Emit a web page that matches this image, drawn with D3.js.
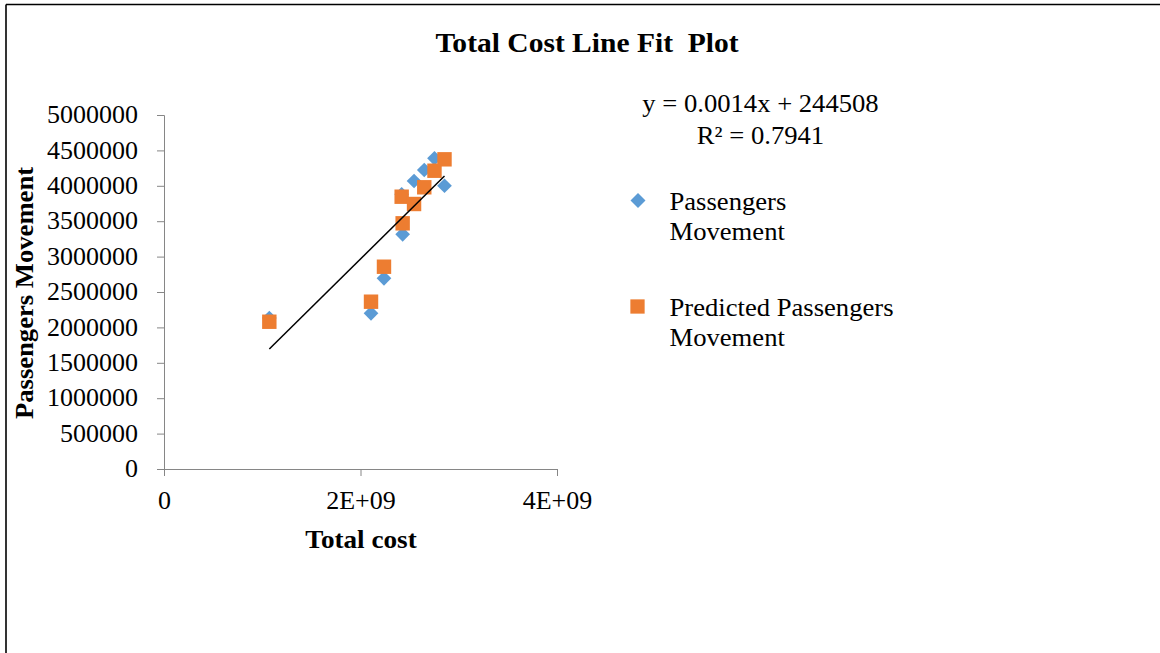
<!DOCTYPE html>
<html>
<head>
<meta charset="utf-8">
<script src="https://cdn.jsdelivr.net/npm/d3@7"></script>
<style>
  html, body { margin: 0; padding: 0; background: #fff; }
  svg { display: block; font-family: "Liberation Serif", "Times New Roman", serif; }
</style>
</head>
<body>
<svg id="chart" width="1160" height="653"></svg>
<script>
// ---- data ----
const totalCost = [1.072e9, 2.107e9, 2.239e9, 2.429e9, 2.419e9, 2.545e9, 2.649e9, 2.753e9, 2.855e9];
const passengersMovement = [2133000, 2199000, 2693000, 3315000, 3880000, 4068000, 4223000, 4388000, 4001000];
const predictedMovement = [2080000, 2363000, 2857000, 3470000, 3846000, 3743000, 3979000, 4213000, 4374000];
const xTicks = [0, 2e9, 4e9];
const xTickLabels = ["0", "2E+09", "4E+09"];
const yTicks = [0, 500000, 1000000, 1500000, 2000000, 2500000, 3000000, 3500000, 4000000, 4500000, 5000000];
const legendLines = [["Passengers", "Movement"], ["Predicted Passengers", "Movement"]];
const equationText = "y = 0.0014x + 244508";
const r2Text = "R² = 0.7941";
const titleText = "Total Cost Line Fit  Plot";
const xTitle = "Total cost";
const yTitle = "Passengers Movement";

const svg = d3.select("#chart");
const blue = "#5B9BD5", orange = "#ED7D31", axisCol = "#868686";
const SX = 1.07; // horizontal glyph stretch of the reference's text

// frame (only top and left edges visible in the window)
svg.append("line").attr("x1", 6).attr("x2", 1160).attr("y1", 4.5).attr("y2", 4.5).attr("stroke", "#000").attr("stroke-width", 1.6);
svg.append("line").attr("x1", 6).attr("x2", 6).attr("y1", 4.5).attr("y2", 653).attr("stroke", "#000").attr("stroke-width", 1.6);

const x = d3.scaleLinear().domain([0, 4e9]).range([164, 557]);
const y = d3.scaleLinear().domain([0, 5000000]).range([469, 115]);

function label(tx, ty, txt, size, opts = {}) {
  const rot = opts.rotate ? ` rotate(${opts.rotate})` : "";
  return svg.append("text")
    .attr("transform", `translate(${tx},${ty})${rot} scale(${SX},1)`)
    .attr("text-anchor", opts.anchor || "middle")
    .attr("font-size", size)
    .attr("font-weight", opts.bold ? "bold" : "normal")
    .attr("fill", "#000")
    .style("white-space", "pre")
    .text(txt);
}

// title
label(587, 52, titleText, 27.6, { bold: true });

// y axis
const yAxis = d3.axisLeft(y).tickValues(yTicks).tickSize(7).tickPadding(17.3).tickFormat(d3.format("d"));
const gy = svg.append("g").attr("transform", "translate(164,0)").call(yAxis);
gy.select(".domain").attr("stroke", axisCol).attr("d", "M-7,115.5H0.5V469.5");
gy.selectAll(".tick line").attr("stroke", axisCol);
gy.selectAll(".tick text").attr("font-size", 24.3).attr("fill", "#000")
  .attr("font-family", "Liberation Serif").attr("transform", `scale(${SX},1)`);

// x axis
const xAxis = d3.axisBottom(x).tickValues(xTicks).tickSize(7).tickPadding(16).tickFormat((d, i) => xTickLabels[i]);
const gx = svg.append("g").attr("transform", "translate(0,469)").call(xAxis);
gx.select(".domain").attr("stroke", axisCol).attr("d", "M164,0.5H557.5V7");
gx.selectAll(".tick line").attr("stroke", axisCol);
gx.selectAll(".tick text").attr("font-size", 24.3).attr("fill", "#000")
  .attr("font-family", "Liberation Serif").attr("transform", `scale(${SX},1)`);

// axis titles
label(361, 548, xTitle, 25.4, { bold: true });
label(33, 293, yTitle, 24.9, { bold: true, rotate: -90 });

// points
const pts = totalCost.map((c, i) => ({ c, a: passengersMovement[i], p: predictedMovement[i] }));
svg.append("g").selectAll("path").data(pts).join("path")
  .attr("d", d3.symbol().type(d3.symbolSquare).size(108))
  .attr("transform", d => `translate(${x(d.c)},${y(d.a)}) rotate(45)`)
  .attr("fill", blue);
svg.append("g").selectAll("path").data(pts).join("path")
  .attr("d", d3.symbol().type(d3.symbolSquare).size(208))
  .attr("transform", d => `translate(${x(d.c)},${y(d.p)})`)
  .attr("fill", orange);

// linear trendline (least squares on the actual series), from min to max x
const mx = d3.mean(totalCost), my = d3.mean(passengersMovement);
let sxy = 0, sxx = 0;
totalCost.forEach((c, i) => { sxy += (c - mx) * (passengersMovement[i] - my); sxx += (c - mx) * (c - mx); });
const slope = sxy / sxx, intercept = my - slope * mx;
const xmin = d3.min(totalCost), xmax = d3.max(totalCost);
svg.append("line")
  .attr("x1", x(xmin)).attr("y1", y(slope * xmin + intercept))
  .attr("x2", x(xmax)).attr("y2", y(slope * xmax + intercept))
  .attr("stroke", "#000").attr("stroke-width", 1.5);

// equation
label(760.5, 111.5, equationText, 24.9);
label(760.5, 143.5, r2Text, 24.9);

// legend
svg.append("path").attr("d", d3.symbol().type(d3.symbolSquare).size(112))
  .attr("transform", "translate(638,200.5) rotate(45)").attr("fill", blue);
svg.append("path").attr("d", d3.symbol().type(d3.symbolSquare).size(204))
  .attr("transform", "translate(637.5,306.5)").attr("fill", orange);
const legBase = [209.5, 315.5];
legendLines.forEach((ls, k) => {
  ls.forEach((s, j) => label(669.5, legBase[k] + j * 30, s, 24.9, { anchor: "start" }));
});
</script>
</body>
</html>
